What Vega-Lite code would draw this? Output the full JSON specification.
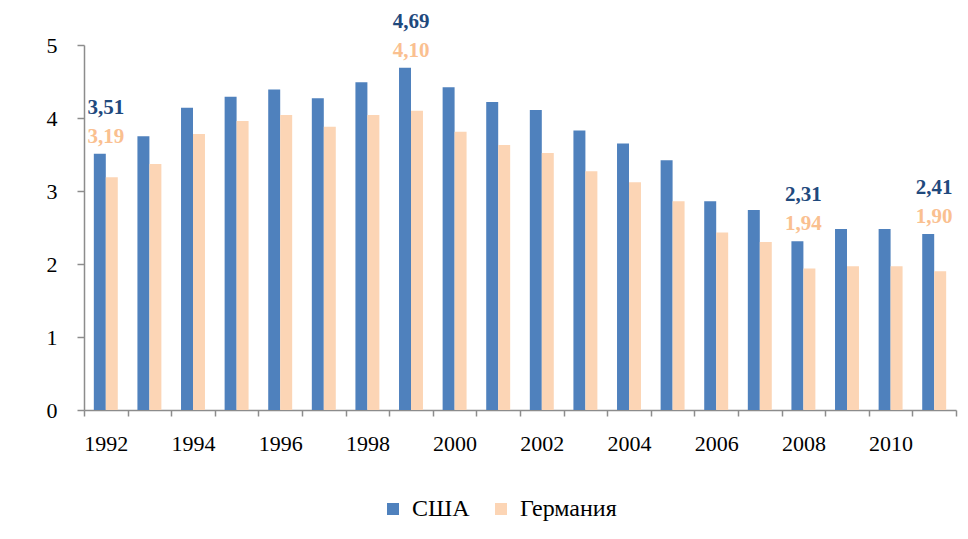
{
  "$schema": "https://vega.github.io/schema/vega-lite/v6.json",
  "width": 872,
  "height": 365,
  "autosize": {"type": "none"},
  "padding": {"left": 84, "top": 45, "right": 12, "bottom": 129},
  "background": "white",
  "config": {
    "view": {"stroke": null},
    "font": "Liberation Serif",
    "text": {"font": "Liberation Serif"},
    "axis": {"labelFont": "Liberation Serif", "labelColor": "#000000", "domainColor": "#8c8c8c", "tickColor": "#8c8c8c", "domainWidth": 1.5, "tickWidth": 1.5, "grid": false, "title": null},
    "legend": {"labelFont": "Liberation Serif"}
  },
  "data": {
    "values": [
      {"year": 1992, "country": "США", "value": 3.51}, {"year": 1992, "country": "Германия", "value": 3.19},
      {"year": 1993, "country": "США", "value": 3.75}, {"year": 1993, "country": "Германия", "value": 3.37},
      {"year": 1994, "country": "США", "value": 4.14}, {"year": 1994, "country": "Германия", "value": 3.78},
      {"year": 1995, "country": "США", "value": 4.29}, {"year": 1995, "country": "Германия", "value": 3.96},
      {"year": 1996, "country": "США", "value": 4.39}, {"year": 1996, "country": "Германия", "value": 4.04},
      {"year": 1997, "country": "США", "value": 4.27}, {"year": 1997, "country": "Германия", "value": 3.88},
      {"year": 1998, "country": "США", "value": 4.49}, {"year": 1998, "country": "Германия", "value": 4.04},
      {"year": 1999, "country": "США", "value": 4.69}, {"year": 1999, "country": "Германия", "value": 4.10},
      {"year": 2000, "country": "США", "value": 4.42}, {"year": 2000, "country": "Германия", "value": 3.81},
      {"year": 2001, "country": "США", "value": 4.22}, {"year": 2001, "country": "Германия", "value": 3.63},
      {"year": 2002, "country": "США", "value": 4.11}, {"year": 2002, "country": "Германия", "value": 3.52},
      {"year": 2003, "country": "США", "value": 3.83}, {"year": 2003, "country": "Германия", "value": 3.27},
      {"year": 2004, "country": "США", "value": 3.65}, {"year": 2004, "country": "Германия", "value": 3.12},
      {"year": 2005, "country": "США", "value": 3.42}, {"year": 2005, "country": "Германия", "value": 2.86},
      {"year": 2006, "country": "США", "value": 2.86}, {"year": 2006, "country": "Германия", "value": 2.43},
      {"year": 2007, "country": "США", "value": 2.74}, {"year": 2007, "country": "Германия", "value": 2.30},
      {"year": 2008, "country": "США", "value": 2.31}, {"year": 2008, "country": "Германия", "value": 1.94},
      {"year": 2009, "country": "США", "value": 2.48}, {"year": 2009, "country": "Германия", "value": 1.97},
      {"year": 2010, "country": "США", "value": 2.48}, {"year": 2010, "country": "Германия", "value": 1.97},
      {"year": 2011, "country": "США", "value": 2.41}, {"year": 2011, "country": "Германия", "value": 1.90}
    ]
  },
  "layer": [
    {
      "mark": {"type": "bar"},
      "encoding": {
        "x": {
          "field": "year", "type": "ordinal",
          "scale": {"paddingInner": 0, "paddingOuter": 0},
          "axis": {"labelAngle": 0, "labelFont": "Liberation Serif", "labelFontSize": 22, "tickSize": 6, "labelPadding": 17, "tickBand": "extent", "labelOverlap": false, "labelExpr": "datum.value % 2 == 0 ? datum.label : ''"}
        },
        "xOffset": {"field": "country", "type": "nominal", "scale": {"domain": ["США", "Германия"], "paddingInner": 0, "paddingOuter": 0.82}},
        "y": {
          "field": "value", "type": "quantitative",
          "scale": {"domain": [0, 5], "nice": false},
          "axis": {"values": [0, 1, 2, 3, 4, 5], "format": "d", "labelFont": "Liberation Serif", "labelFontSize": 22, "tickSize": 7, "labelPadding": 20}
        },
        "color": {
          "field": "country", "type": "nominal",
          "scale": {"domain": ["США", "Германия"], "range": ["#4F81BD", "#FCD5B5"]},
          "legend": {"orient": "none", "legendX": 297, "legendY": 452, "direction": "horizontal", "title": null, "symbolType": "square", "symbolSize": 144, "symbolStrokeWidth": 0, "labelFont": "Liberation Serif", "labelFontSize": 24, "columnPadding": 19, "labelOffset": 7, "padding": 0, "labelColor": "#000000"}
        }
      }
    },
    {
      "transform": [
        {"filter": "indexof([1992, 1999, 2008, 2011], datum.year) >= 0"},
        {"joinaggregate": [{"op": "max", "field": "value", "as": "top"}], "groupby": ["year"]},
        {"filter": "datum.country == 'США'"},
        {"calculate": "replace(format(datum.value, '.2f'), '.', ',')", "as": "label"}
      ],
      "mark": {"type": "text", "font": "Liberation Serif", "fontSize": 21, "fontWeight": "bold", "color": "#1F497D", "baseline": "alphabetic", "align": "center", "dy": -40},
      "encoding": {
        "x": {"field": "year", "type": "ordinal"},
        "y": {"field": "top", "type": "quantitative"},
        "text": {"field": "label"}
      }
    },
    {
      "transform": [
        {"filter": "indexof([1992, 1999, 2008, 2011], datum.year) >= 0"},
        {"joinaggregate": [{"op": "max", "field": "value", "as": "top"}], "groupby": ["year"]},
        {"filter": "datum.country == 'Германия'"},
        {"calculate": "replace(format(datum.value, '.2f'), '.', ',')", "as": "label"}
      ],
      "mark": {"type": "text", "font": "Liberation Serif", "fontSize": 21, "fontWeight": "bold", "color": "#FAC090", "baseline": "alphabetic", "align": "center", "dy": -11},
      "encoding": {
        "x": {"field": "year", "type": "ordinal"},
        "y": {"field": "top", "type": "quantitative"},
        "text": {"field": "label"}
      }
    }
  ]
}
